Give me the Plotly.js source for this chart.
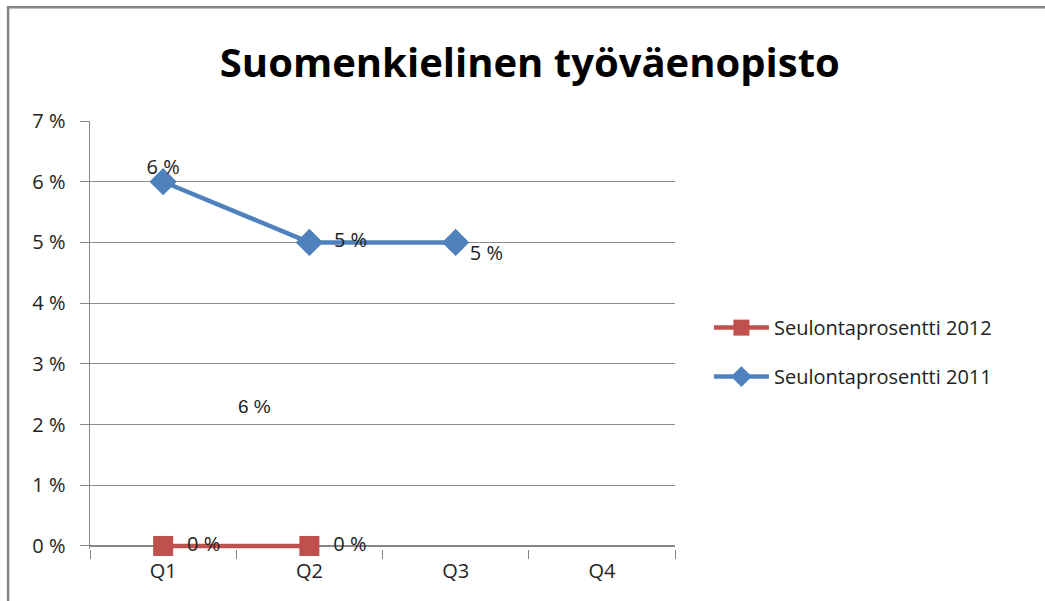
<!DOCTYPE html>
<html>
<head>
<meta charset="utf-8">
<script src="https://cdn.plot.ly/plotly-3.0.1.min.js"></script>
<style>html,body{margin:0;padding:0;background:#fff;}#chart{width:1045px;height:601px;}</style>
</head>
<body>
<div id="chart"></div>
<script>
const categories = ['Q1', 'Q2', 'Q3', 'Q4'];
const seriesNames = ['Seulontaprosentti 2012', 'Seulontaprosentti 2011'];
const values2012 = [0, 0];
const values2011 = [6, 5, 5];
const yTickVals = [0, 1, 2, 3, 4, 5, 6, 7];
const yTickText = ['0 %', '1 %', '2 %', '3 %', '4 %', '5 %', '6 %', '7 %'];
const strayLabel = '6 %';

const fmt = v => v + ' %';
const NB = '\u00a0';
const labelFont = {family: 'Open Sans, DejaVu Sans, sans-serif', size: 20, color: '#222'};

// label placement for 2011 series (above / right / below-right)
const text2011 = values2011.map((v, i) =>
  i === 0 ? fmt(v) + '<br>' + NB :
  i === 1 ? NB + NB + fmt(v) :
            NB + '<br>' + fmt(v));
const pos2011 = ['middle center', 'middle right', 'middle right'];

const t2012 = {
  x: categories.slice(0, values2012.length), y: values2012,
  name: seriesNames[0], legendgroup: 'g2012', type: 'scatter', mode: 'lines+markers+text',
  line: {color: '#C0504D', width: 4.5},
  marker: {symbol: 'square', size: 20, color: '#C0504D'},
  text: values2012.map(v => NB + NB + fmt(v)), textposition: 'middle right',
  textfont: labelFont, cliponaxis: false
};
const t2011 = {
  x: categories.slice(0, values2011.length), y: values2011,
  name: seriesNames[1], legendgroup: 'g2011', type: 'scatter', mode: 'lines+markers+text',
  line: {color: '#4F81BD', width: 4.5},
  marker: {symbol: 'diamond', size: 21, color: '#4F81BD'},
  text: text2011, textposition: pos2011,
  textfont: labelFont, cliponaxis: false
};

const tickFont = {family: 'Open Sans, DejaVu Sans, sans-serif', size: 20, color: '#222'};

const layout = {
  width: 1045, height: 601,
  margin: {l: 90, r: 370, t: 121, b: 52},
  paper_bgcolor: '#fff', plot_bgcolor: '#fff',
  showlegend: true,
  title: {text: '<b>Suomenkielinen työväenopisto</b>', x: 0.507, xanchor: 'center', y: 0.895, yanchor: 'middle',
          font: {family: 'Open Sans, DejaVu Sans, sans-serif', size: 40, color: '#000'}},
  xaxis: {
    type: 'category', range: [-0.5, 3.5], categoryarray: categories, categoryorder: 'array',
    tickson: 'boundaries', ticks: 'outside', ticklen: 9, tickcolor: '#868686',
    ticklabelstandoff: 8,
    showline: false, showgrid: false, zeroline: false,
    tickfont: tickFont
  },
  yaxis: {
    range: [-0.05, 7], tickvals: yTickVals, ticktext: yTickText,
    ticks: 'outside', ticklen: 9, tickcolor: '#868686',
    ticklabelstandoff: 10,
    showline: true, linecolor: '#868686', linewidth: 1.5,
    showgrid: true, gridcolor: '#8c8c8c', gridwidth: 1,
    zeroline: true, zerolinecolor: '#868686', zerolinewidth: 1.5,
    tickfont: tickFont
  },
  legend: {
    x: 1.058, y: 0.46, xanchor: 'left', yanchor: 'middle',
    itemwidth: 55, tracegroupgap: 20,
    font: {family: 'Open Sans, DejaVu Sans, sans-serif', size: 20, color: '#222'},
    traceorder: 'grouped', bgcolor: 'rgba(0,0,0,0)'
  },
  annotations: [{
    xref: 'paper', yref: 'paper', x: 0.25, y: 0.304, showarrow: false,
    text: strayLabel, font: {family: 'Liberation Sans, Arial, sans-serif', size: 19, color: '#222'}
  }],
  shapes: [{
    type: 'rect', xref: 'paper', yref: 'paper',
    x0: -0.140, x1: 1.70, y0: -0.20, y1: 1.266,
    line: {color: '#868686', width: 2.5}
  }]
};

Plotly.newPlot('chart', [t2012, t2011], layout, {displayModeBar: false, staticPlot: true});
</script>
</body>
</html>
